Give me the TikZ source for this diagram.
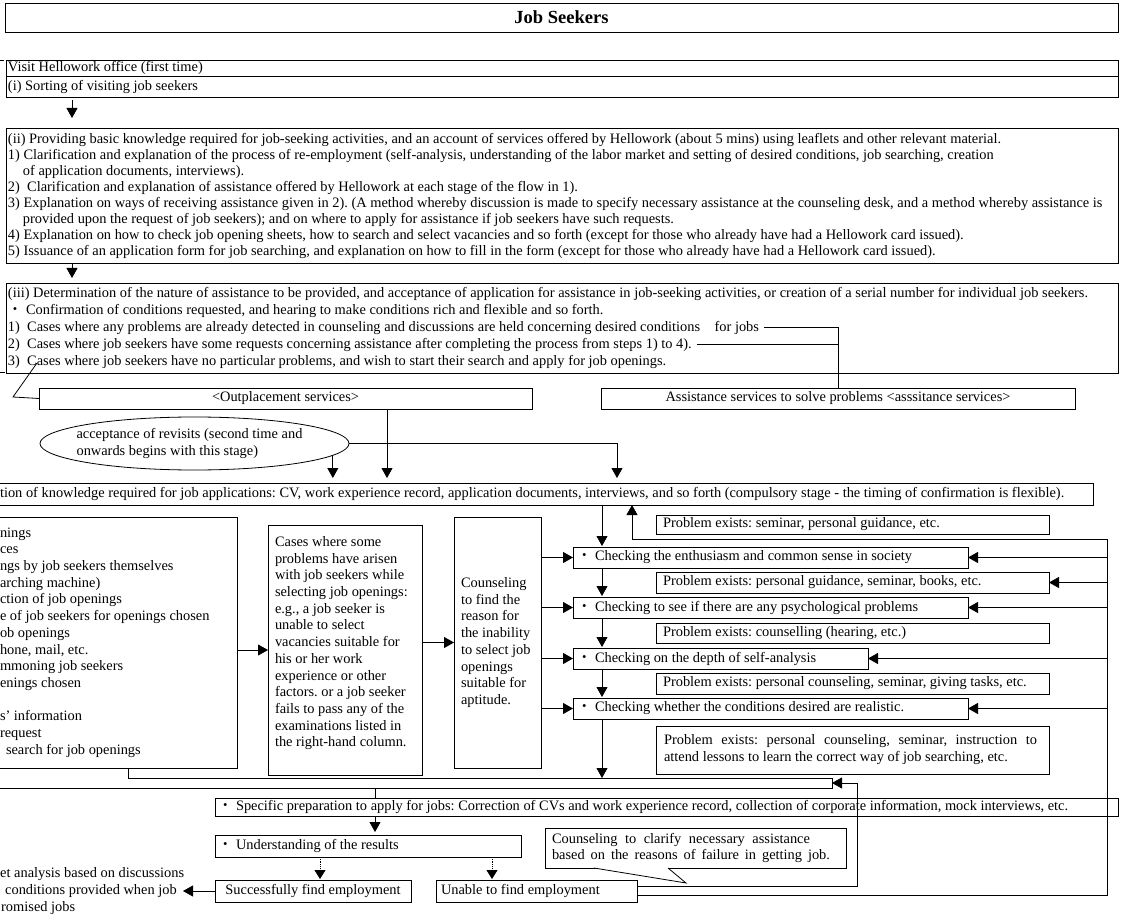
\documentclass[tikz,border=0pt]{standalone}
\usepackage{fontspec}
\setmainfont{Liberation Serif}
\newfontfamily\cjkfont{Noto Sans CJK JP}
\usetikzlibrary{arrows.meta,calc,shapes.geometric}
\frenchspacing
\newcommand{\mdot}{{\cjkfont ・}}
\newcommand{\fA}{\fontsize{14.4}{16.7}\selectfont}
\newlength{\wA}\newlength{\wB}
\AtBeginDocument{%
 \frenchspacing
 \settowidth{\wA}{\fA 1)\hspace{0.5em}Cases where any problems are already detected in counseling and discussions are held concerning desired conditions\hspace{1em}for jobs}%
 \settowidth{\wB}{\fA 2)\hspace{0.5em}Cases where job seekers have some requests concerning assistance after completing the process from steps 1) to 4).}%
}
\begin{document}
\begin{tikzpicture}[x=1pt,y=-1pt,
  every node/.style={font=\fA, execute at begin node={\spaceskip=0pt\xspaceskip=0pt}},
  box/.style={draw, line width=0.8pt, anchor=north west, inner ysep=0pt, outer sep=0pt},
  lbox/.style={box, align=left, inner xsep=2pt},
  cbox/.style={box, align=center, inner xsep=0pt},
  arr/.style={line width=0.8pt, -{Triangle[length=10pt,width=11pt]}},
  arrgap/.style={arr, shorten >=5pt},
  darr/.style={line width=0.8pt, densely dotted, -{Triangle[length=9pt,width=11pt]}, shorten >=1pt},
  ln/.style={line width=0.8pt}
]
\useasboundingbox (0,0) rectangle (1128,920);
\clip (0,0) rectangle (1128,920);

% ---------- top part ----------
\node[cbox, minimum width=1113, minimum height=29, font=\fontsize{18.5}{20}\selectfont\bfseries] (title) at (5,3) {Job Seekers};

\node[lbox, minimum width=1112, minimum height=16, text width=1108pt] (visit) at (6,60) {Visit Hellowork office (first time)};
\node[lbox, minimum width=1112, minimum height=21, text width=1108pt] (sort) at (6,76) {(i) Sorting of visiting job seekers};

\node[lbox, minimum width=1112, minimum height=135, text width=1108pt, font=\fontsize{14.4}{16}\selectfont] (ii) at (6,128) {%
\mbox{(ii) Providing basic knowledge required for job-seeking activities, and an account of services offered by Hellowork (about 5 mins) using leaflets and other relevant material.}\\
\mbox{1) Clarification and explanation of the process of re-employment (self-analysis, understanding of the labor market and setting of desired conditions, job searching, creation}\\
\mbox{\hspace*{15pt}of application documents, interviews).}\\
\mbox{2)\hspace{0.5em}Clarification and explanation of assistance offered by Hellowork at each stage of the flow in 1).}\\
\mbox{3) Explanation on ways of receiving assistance given in 2). (A method whereby discussion is made to specify necessary assistance at the counseling desk, and a method whereby assistance is}\\
\mbox{\hspace*{15pt}provided upon the request of job seekers); and on where to apply for assistance if job seekers have such requests.}\\
\mbox{4) Explanation on how to check job opening sheets, how to search and select vacancies and so forth (except for those who already have had a Hellowork card issued).}\\
\mbox{5) Issuance of an application form for job searching, and explanation on how to fill in the form (except for those who already have had a Hellowork card issued).}};

\node[lbox, minimum width=1112, minimum height=90, text width=1108pt, font=\fontsize{14.4}{17}\selectfont] (iii) at (6,283) {%
\mbox{(iii) Determination of the nature of assistance to be provided, and acceptance of application for assistance in job-seeking activities, or creation of a serial number for individual job seekers.}\\
\mbox{\mdot{} Confirmation of conditions requested, and hearing to make conditions rich and flexible and so forth.}\\
\mbox{1)\hspace{0.5em}Cases where any problems are already detected in counseling and discussions are held concerning desired conditions\hspace{1em}for jobs}\\
\mbox{2)\hspace{0.5em}Cases where job seekers have some requests concerning assistance after completing the process from steps 1) to 4).}\\
\mbox{3)\hspace{0.5em}Cases where job seekers have no particular problems, and wish to start their search and apply for job openings.}};

\coordinate (ax) at (72,0);
\draw[arr, shorten >=10pt, shorten <=3pt] (sort.south -| ax) -- (ii.north -| ax);
\draw[arrgap] (ii.south -| ax) -- (iii.north -| ax);

% left ticks
\coordinate (t1a) at (0,60); \coordinate (t1b) at (4,60);
\coordinate (t2a) at (0,372); \coordinate (t2b) at (5,372);
\draw[ln] (t1a) -- (t1b);
\draw[ln] (t2a) -- (t2b);

\node[cbox, minimum width=493, minimum height=21] (outp) at (39,388) {<Outplacement services>};
\node[cbox, minimum width=474, minimum height=21] (asst) at (601,388) {Assistance services to solve problems <asssitance services>};

\coordinate (k1) at (37,363); \coordinate (k2) at (13,397);
\draw[ln] (outp.west) -- (k2) -- (k1);

\coordinate (j1) at ($(iii.west |- 0,327)+(\wA+7pt,0)$);
\coordinate (j2) at ($(iii.west |- 0,344)+(\wB+7pt,0)$);
\draw[ln] (j1) -| (asst.north);
\draw[ln] (j2) -- (j2 -| asst.north);

\node[draw, ellipse, line width=0.8pt, minimum width=309, minimum height=53, inner xsep=-12pt, inner ysep=0pt, align=left] (rev) at (194.5,443.5) {acceptance of revisits (second time and\hspace*{10pt}\\onwards begins with this stage)};

% ---------- confirmation ----------
\node[lbox, inner xsep=4pt, minimum width=1097, minimum height=22, text width=1089pt] (conf) at (-4,483) {\mbox{tion of knowledge required for job applications: CV, work experience record, application documents, interviews, and so forth (compulsory stage - the timing of confirmation is flexible).}};

\coordinate (x387) at (387,0);
\coordinate (x617) at (617,0);
\draw[arrgap] (rev.-5.8) -- (rev.-5.8 |- conf.north);
\draw[arrgap] (outp.south -| x387) -- (conf.north -| x387);
\draw[arrgap] (rev.east) -| (conf.north -| x617);

% ---------- middle row ----------
\node[lbox, inner xsep=4pt, minimum width=241, minimum height=251, text width=233pt] (leftbox) at (-4,517) {%
nings\\ces\\ngs by job seekers themselves\\arching machine)\\ction of job openings\\e of job seekers for openings chosen\\ob openings\\hone, mail, etc.\\mmoning job seekers\\enings chosen\\\mbox{}\\s' information\\request\\\hspace*{6pt}search for job openings};

\node[lbox, inner xsep=7pt, minimum width=154, minimum height=250, text width=140pt] (mid) at (268,525) {%
Cases where some\\problems have arisen\\with job seekers while\\selecting job openings:\\e.g., a job seeker is\\unable to select\\vacancies suitable for\\his or her work\\experience or other\\factors. or a job seeker\\fails to pass any of the\\examinations listed in\\the right-hand column.\\\mbox{}};

\node[lbox, inner xsep=7pt, minimum width=87, minimum height=251, text width=73pt] (couns) at (454,517) {%
Counseling\\to find the\\reason for\\the inability\\to select job\\openings\\suitable for\\aptitude.};

\draw[arr] (leftbox.east |- mid.west) -- (mid.west);
\draw[arr] (mid.east |- couns.west) -- (couns.west);

% checks and problems
\node[lbox, inner xsep=7pt, minimum width=393, minimum height=19, text width=379pt] (p0) at (656,515) {Problem exists: seminar, personal guidance, etc.};
\node[lbox, inner xsep=4pt, minimum width=395, minimum height=21, text width=387pt] (ch1) at (573,547) {\mdot{} Checking the enthusiasm and common sense in society};
\node[lbox, inner xsep=7pt, minimum width=393, minimum height=21, text width=379pt] (p1) at (656,572) {Problem exists: personal guidance, seminar, books, etc.};
\node[lbox, inner xsep=4pt, minimum width=395, minimum height=21, text width=387pt] (ch2) at (573,597) {\mdot{} Checking to see if there are any psychological problems};
\node[lbox, inner xsep=7pt, minimum width=393, minimum height=20, text width=379pt] (p2) at (656,623) {Problem exists: counselling (hearing, etc.)};
\node[lbox, inner xsep=4pt, minimum width=295, minimum height=21, text width=287pt] (ch3) at (573,648) {\mdot{} Checking on the depth of self-analysis};
\node[lbox, inner xsep=7pt, minimum width=393, minimum height=21, text width=379pt] (p3) at (656,673) {Problem exists: personal counseling, seminar, giving tasks, etc.};
\node[lbox, inner xsep=4pt, minimum width=395, minimum height=21, text width=387pt] (ch4) at (573,698) {\mdot{} Checking whether the conditions desired are realistic.};
\node[lbox, inner xsep=8pt, minimum width=393, minimum height=48, text width=377pt, font=\fontsize{14.4}{17}\selectfont] (p4) at (656,726) {\makebox[373pt][s]{Problem exists: personal counseling, seminar, instruction to}\\attend lessons to learn the correct way of job searching, etc.};

\draw[arr] (couns.east |- ch1.west) -- (ch1.west);
\draw[arr] (couns.east |- ch2.west) -- (ch2.west);
\draw[arr] (couns.east |- ch3.west) -- (ch3.west);
\draw[arr] (couns.east |- ch4.west) -- (ch4.west);

% bar
\coordinate (bTL) at (128,778); \coordinate (bTR) at (832,778);
\coordinate (bBR) at (832,788); \coordinate (bBL) at (-5,788);
\draw[ln] (leftbox.south -| bTL) -- (bTL) -- (bTR) -- (bBR) -- (bBL);

\coordinate (cx) at (602,0);
\draw[arr, shorten >=1pt] (conf.south -| cx) -- (ch1.north -| cx);
\draw[arr, shorten >=1pt] (ch1.south -| cx) -- (ch2.north -| cx);
\draw[arr, shorten >=1pt] (ch2.south -| cx) -- (ch3.north -| cx);
\draw[arr, shorten >=1pt] (ch3.south -| cx) -- (ch4.north -| cx);
\draw[arr] (ch4.south -| cx) -- (cx |- bTR);

% ---------- bottom ----------
\node[lbox, inner xsep=3pt, minimum width=903, minimum height=18, text width=897pt] (spec) at (215,798) {\mbox{\mdot{} Specific preparation to apply for jobs: Correction of CVs and work experience record, collection of corporate information, mock interviews, etc.}};
\node[lbox, inner xsep=3pt, minimum width=306, minimum height=22, text width=300pt] (und) at (215,835) {\mdot{} Understanding of the results};
\node[lbox, inner xsep=7pt, minimum width=301, minimum height=40, text width=287pt] (cb) at (545,828) {\makebox[258pt][s]{Counseling to clarify necessary assistance}\\\makebox[278pt][s]{based on the reasons of failure in getting job.}};
\node[cbox, minimum width=196, minimum height=22] (succ) at (215,880) {Successfully find employment};
\node[lbox, inner xsep=5pt, minimum width=201, minimum height=22, text width=191pt] (unable) at (436,880) {Unable to find employment};
\node[anchor=north west, inner sep=0pt, align=left, font=\fontsize{14.4}{17}\selectfont] (lt) at (0,867) {et analysis based on discussions\\\hspace*{5pt}conditions provided when job\\\hspace*{1pt}romised jobs};

\coordinate (x375) at (375,0);
\draw[ln] (x375 |- bBL) -- (spec.north -| x375);
\draw[arr, shorten >=3pt] (spec.south -| x375) -- (und.north -| x375);
\coordinate (x320) at (320,0); \coordinate (x492) at (492,0);
\draw[darr] (und.south -| x320) -- (succ.north -| x320);
\draw[darr] (und.south -| x492) -- (unable.north -| x492);
\coordinate (x183) at (183,0);
\draw[arr] (succ.west) -- (succ.west -| x183);

% callout pointer
\coordinate (cbtip) at (686,883);
\coordinate (cbb1) at ($(cb.south west)+(49,0)$);
\coordinate (cbb2) at ($(cb.south west)+(123,0)$);
\fill[white] ($(cbb1)+(1,-1.2)$) -- ($(cbb2)+(-1,-1.2)$) -- (cbb2) -- (cbtip) -- (cbb1) -- cycle;
\draw[ln] (cbb1) -- (cbtip) -- (cbb2);

% unable -> bar
\coordinate (ua) at (857,886); \coordinate (ub) at (832,783);
\draw[arr] (unable.east |- ua) -- (ua) |- (ub);

% right loop
\coordinate (RT) at (1107,539); \coordinate (RB) at (1107,895); \coordinate (UP) at (632,539);
\draw[arr] (unable.east |- RB) -- (RB) -- (RT) -- (UP) -- (conf.south -| UP);
\draw[arr] (RT |- ch1.east) -- (ch1.east);
\draw[arr] (RT |- p1.east) -- (p1.east);
\draw[arr] (RT |- ch2.east) -- (ch2.east);
\draw[arr] (RT |- ch3.east) -- (ch3.east);
\draw[arr] (RT |- ch4.east) -- (ch4.east);
\end{tikzpicture}
\end{document}
